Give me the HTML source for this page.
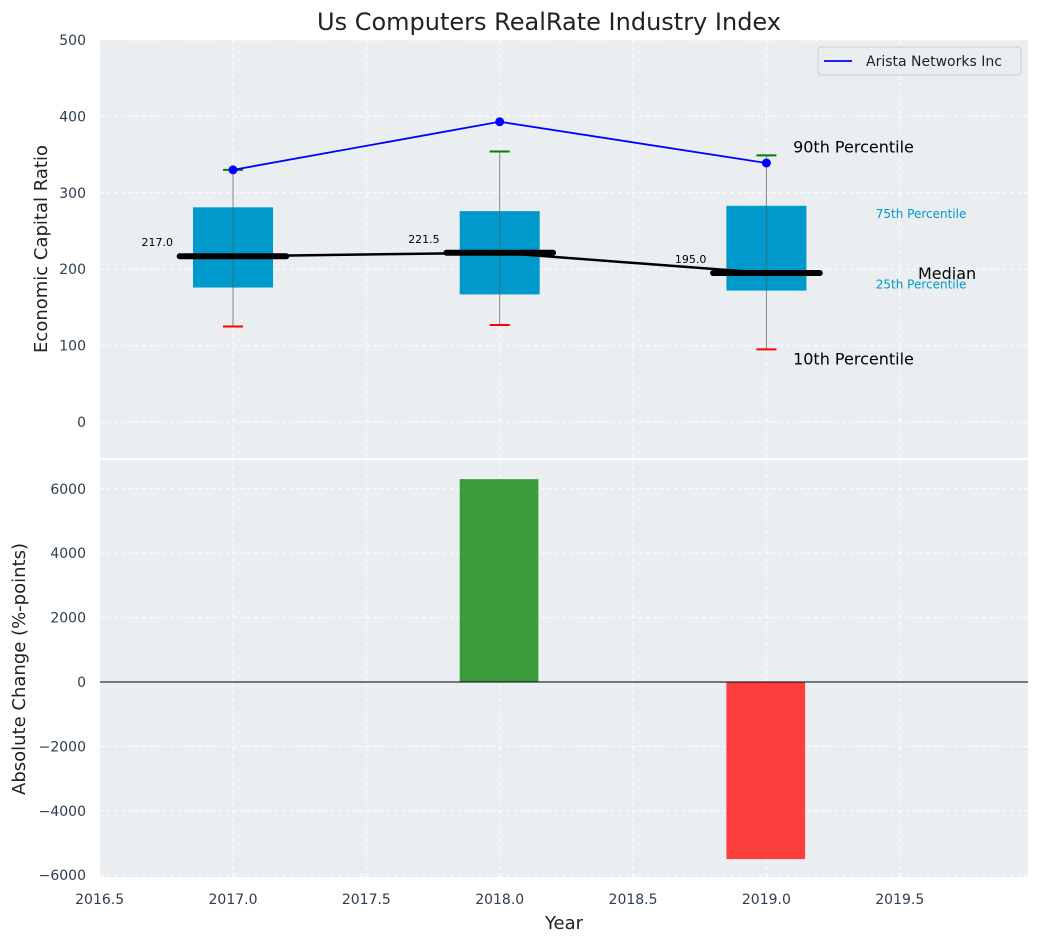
<!DOCTYPE html>
<html><head><meta charset="utf-8"><style>
body{margin:0;background:#fff;font-family:"Liberation Sans","DejaVu Sans",sans-serif}
</style></head><body>
<svg id="c" width="1039" height="942" xmlns="http://www.w3.org/2000/svg" font-family="DejaVu Sans, Liberation Sans, sans-serif"></svg>
<script>
const years=[2017,2018,2019];
const q75=[281,276,283];
const q25=[176,167,172];
const p90=[330,354,349];
const p10=[125,127,95];
const medians=[217,221.5,195];
const arista=[330,393,339];
const changes=[0,6300,-5500];
const xTicks=[2016.5,2017,2017.5,2018,2018.5,2019,2019.5];
const yTopTicks=[0,100,200,300,400,500];
const yBotTicks=[-6000,-4000,-2000,0,2000,4000,6000];

const NS="http://www.w3.org/2000/svg";
const svg=document.getElementById('c');
const L=100,R=1028;
const x=v=>233+(v-2017)*266.7;
const yT=v=>422-v*0.764;
const yB=v=>682-v*0.0322;
function el(t,a,p){const e=document.createElementNS(NS,t);for(const k in a)e.setAttribute(k,a[k]);(p||svg).appendChild(e);return e;}
function tx(s,a){const e=el('text',a);e.textContent=s;return e;}

let e=el('rect',{x:L,y:40,width:R-L,height:418,fill:'#eaeef0'});

e=el('rect',{x:L,y:460,width:R-L,height:417,fill:'#eaeef0'});


xTicks.forEach(t=>{
  [[40,458],[460,877]].forEach(r=>{
    e=el('line',{x1:x(t),x2:x(t),y1:r[0],y2:r[1],stroke:'#fff','stroke-dasharray':'4,3','stroke-width':1});
    
  });
});
yTopTicks.forEach(t=>{
  e=el('line',{x1:L,x2:R,y1:yT(t),y2:yT(t),stroke:'#fff','stroke-dasharray':'4,3'});
  
  e=tx(String(t),{x:86,y:yT(t)+5,'text-anchor':'end','font-size':14,fill:'#2e3e50'});
  
});
yBotTicks.forEach(t=>{
  e=el('line',{x1:L,x2:R,y1:yB(t),y2:yB(t),stroke:'#fff','stroke-dasharray':'4,3'});
  
  e=tx(String(t).replace('-','\u2212'),{x:86,y:yB(t)+5,'text-anchor':'end','font-size':14,fill:'#2e3e50'});
  
});
xTicks.forEach(t=>{
  e=tx(t.toFixed(1),{x:x(t),y:904,'text-anchor':'middle','font-size':14,fill:'#2e3e50'});
  
});

years.forEach((yr,i)=>{
  e=el('line',{x1:x(yr),x2:x(yr),y1:yT(p90[i]),y2:yT(p10[i]),stroke:'#888','stroke-width':1});
  
  e=el('rect',{x:x(yr-0.15),y:yT(q75[i]),width:x(yr+0.15)-x(yr-0.15),height:yT(q25[i])-yT(q75[i]),fill:'#0099cc'});
  
  e=el('line',{x1:x(yr),x2:x(yr),y1:yT(q75[i]),y2:yT(q25[i]),stroke:'#555','stroke-width':1,opacity:0.6});
  e=el('line',{x1:x(yr)-10,x2:x(yr)+10,y1:yT(p90[i]),y2:yT(p90[i]),stroke:'green','stroke-width':2});
  
  e=el('line',{x1:x(yr)-10,x2:x(yr)+10,y1:yT(p10[i]),y2:yT(p10[i]),stroke:'red','stroke-width':2});
  
});
e=el('polyline',{points:years.map((yr,i)=>x(yr)+','+yT(medians[i])).join(' '),fill:'none',stroke:'#000','stroke-width':2.5});

years.forEach((yr,i)=>{
  e=el('line',{x1:x(yr-0.2),x2:x(yr+0.2),y1:yT(medians[i]),y2:yT(medians[i]),stroke:'#000','stroke-width':6,'stroke-linecap':'round'});
  
  e=tx(medians[i].toFixed(1),{x:x(yr)-60,y:yT(medians[i])-10,'text-anchor':'end','font-size':11,fill:'#000'});
  
});
e=el('polyline',{points:years.map((yr,i)=>x(yr)+','+yT(arista[i])).join(' '),fill:'none',stroke:'blue','stroke-width':1.8});

years.forEach((yr,i)=>{
  e=el('circle',{cx:x(yr),cy:yT(arista[i]),r:4.5,fill:'blue'});
  
});
const li=years.length-1;
[['90th Percentile',x(2019.1),yT(p90[li])-3,16,'#000'],['10th Percentile',x(2019.1),yT(p10[li])+15,16,'#000'],
 ['75th Percentile',x(2019.41),yT(q75[li])+12,12,'#0099cc'],['25th Percentile',x(2019.41),yT(q25[li])-2,12,'#0099cc'],
 ['Median',918,yT(medians[li])+6,16,'#000']].forEach(a=>{
  e=tx(a[0],{x:a[1],y:a[2],'font-size':a[3],fill:a[4]});
  
});
e=el('rect',{x:818,y:47,width:203,height:28,fill:'#eaeef0',stroke:'#ccc',rx:3});

el('line',{x1:824,x2:852,y1:61,y2:61,stroke:'blue','stroke-width':1.8});
e=tx('Arista Networks Inc',{x:866,y:66,'font-size':14,fill:'#222'});


years.forEach((yr,i)=>{
  const v=changes[i];
  e=el('rect',{x:x(yr-0.15),y:Math.min(yB(v),yB(0)),width:x(yr+0.145)-x(yr-0.15),height:Math.abs(yB(v)-yB(0)),fill:v>=0?'#3c9c3c':'#fd3e3e'});
  
});
e=el('line',{x1:L,x2:R,y1:yB(0),y2:yB(0),stroke:'#000','stroke-width':1});


e=tx('Us Computers RealRate Industry Index',{x:549,y:30,'text-anchor':'middle','font-size':24,fill:'#222'});

e=tx('Economic Capital Ratio',{x:0,y:0,'text-anchor':'middle','font-size':18,fill:'#222',transform:'translate(47,249) rotate(-90)'});

e=tx('Absolute Change (%-points)',{x:0,y:0,'text-anchor':'middle','font-size':18,fill:'#222',transform:'translate(25,669) rotate(-90)'});

e=tx('Year',{x:564,y:929,'text-anchor':'middle','font-size':18,fill:'#222'});

</script>
</body></html>
